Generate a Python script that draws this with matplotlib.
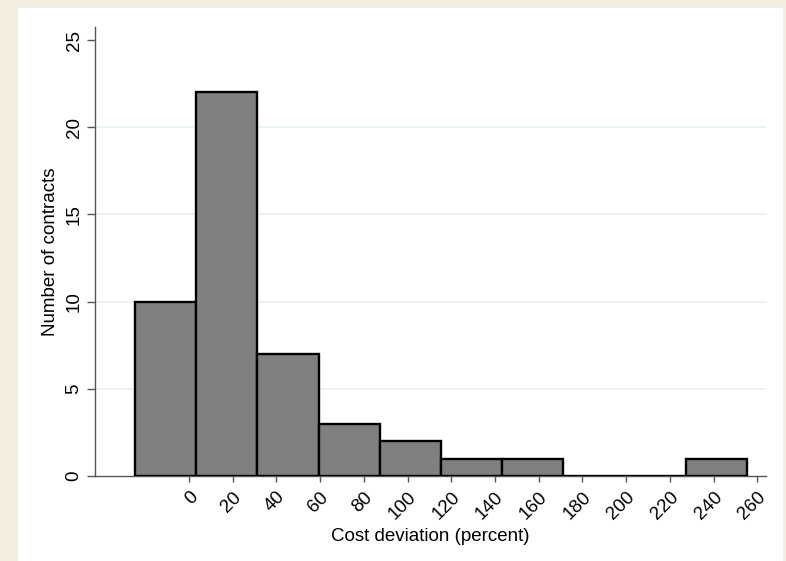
import matplotlib
matplotlib.use("Agg")
import matplotlib.pyplot as plt
import numpy as np
from matplotlib.patches import Rectangle

plt.rcParams["font.family"] = ["Liberation Sans", "DejaVu Sans"]

# Histogram of cost deviations: 10 equal-width bins
bin_start = -24.7
bin_width = 28.0
counts = [10, 22, 7, 3, 2, 1, 1, 0, 0, 1]
x_ticks = [0, 20, 40, 60, 80, 100, 120, 140, 160, 180, 200, 220, 240, 260]
y_ticks = [0, 5, 10, 15, 20, 25]

W, H = 786, 561
fig = plt.figure(figsize=(W / 100, H / 100), dpi=100)
fig.patch.set_facecolor("#f5eee0")

# white panel with a faint top rule
fig.patches.append(Rectangle((18 / W, 0), (783 - 18) / W, (H - 8) / H,
                             transform=fig.transFigure, facecolor="white",
                             edgecolor="none", zorder=-5))
fig.patches.append(Rectangle((18 / W, (H - 8) / H), (783 - 18) / W, 1.5 / H,
                             transform=fig.transFigure, facecolor="#e6eef0",
                             edgecolor="none", zorder=-5))

ax = fig.add_axes([95 / W, (H - 476) / H, (766 - 95) / W, (476 - 27) / H])
ax.set_zorder(2)
ax.set_facecolor("none")

edges = bin_start + bin_width * np.arange(len(counts) + 1)
ax.bar(edges[:-1], counts, width=bin_width, align="edge",
       color="#808080", edgecolor="black", linewidth=1.7, zorder=3)

ax.set_xlim(-43, 264)
ax.set_ylim(0, 25.75)

for y in y_ticks[1:-1]:
    ax.axhline(y, color="#e8f0f2", linewidth=1.2, zorder=1)

for side in ["top", "right"]:
    ax.spines[side].set_visible(False)
for side in ["left", "bottom"]:
    ax.spines[side].set_color("#555555")
    ax.spines[side].set_linewidth(1.0)

fs = 13.5
ax.set_xticks(x_ticks)
ax.set_xticklabels([str(v) for v in x_ticks], rotation=45, ha="right",
                   va="top", rotation_mode="anchor", fontsize=fs)
ax.set_yticks(y_ticks)
ax.set_yticklabels([str(v) for v in y_ticks], rotation=90, va="center",
                   fontsize=fs)
ax.tick_params(axis="x", length=4.5, width=1.0, color="#555555", pad=4.5)
ax.tick_params(axis="y", length=6, width=1.0, color="#555555", pad=3)

ax.set_xlabel("Cost deviation (percent)", fontsize=fs, labelpad=4)
ax.set_ylabel("Number of contracts", fontsize=fs, labelpad=5)

fig.savefig("out.png", dpi=100, facecolor=fig.get_facecolor())
